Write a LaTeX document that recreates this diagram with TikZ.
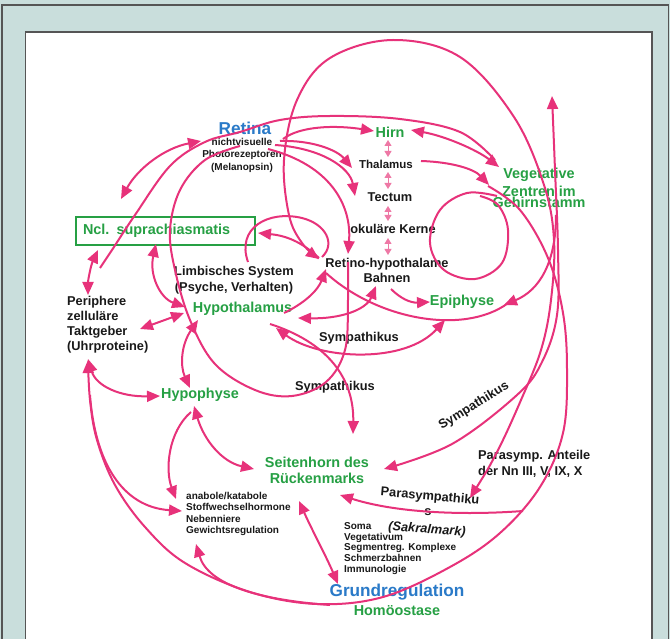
\documentclass[tikz,border=0pt]{standalone}
\usepackage{fontspec}
\setmainfont{Liberation Sans}
\usetikzlibrary{arrows.meta}
\definecolor{mypink}{RGB}{231,50,122}
\definecolor{mypinklt}{RGB}{238,120,165}
\definecolor{mygreen}{RGB}{38,160,68}
\definecolor{myblue}{RGB}{42,122,200}
\definecolor{mytext}{RGB}{25,25,25}
\definecolor{mybg}{RGB}{201,222,220}
\definecolor{myframe}{RGB}{85,85,85}
\begin{document}
\begin{tikzpicture}[x=1pt,y=-1pt,
  pinkline/.style={draw=mypink,line width=2pt},
  arrA/.style={pinkline,-{Triangle[length=13pt,width=11pt]}},
  arrAB/.style={pinkline,{Triangle[length=13pt,width=11pt]}-{Triangle[length=13pt,width=11pt]}},
  smallarr/.style={draw=mypinklt,line width=1pt,{Triangle[length=6pt,width=7pt]}-{Triangle[length=6pt,width=7pt]}},
  blk/.style={inner sep=0pt,text=mytext,font=\bfseries\fontsize{12.8}{15}\selectfont},
  grn/.style={inner sep=0pt,text=mygreen,font=\bfseries\fontsize{14.4}{16}\selectfont},
  bluebig/.style={inner sep=0pt,text=myblue,font=\bfseries\fontsize{17.2}{19}\selectfont},
  smalltxt/.style={inner sep=0pt,text=mytext,font=\bfseries\fontsize{10}{11.3}\selectfont}]
\useasboundingbox (0,0) rectangle (670,639);
\clip (0,0) rectangle (670,639);
\fill[mybg] (0,0) rectangle (670,639);
\draw[myframe,line width=1.3pt] (2,5) rectangle (668.5,660);
\draw[myframe,fill=white,line width=1.5pt] (25.5,32) rectangle (652,660);

% nodes
\node[bluebig] (retina) at (245,128) {Retina};
\node[smalltxt,align=center,font=\bfseries\fontsize{10}{12.5}\selectfont] (melan) at (242,155) {nichtvisuelle\\Photorezeptoren\\(Melanopsin)};
\node[grn] (hirn) at (390,132) {Hirn};
\node[blk,font=\bfseries\fontsize{11.5}{14}\selectfont] (thal) at (386,164) {Thalamus};
\node[blk] (tect) at (390,197) {Tectum};
\node[blk] (okul) at (393,229) {okuläre Kerne};
\node[blk,align=center] (rhb) at (387,270.5) {Retino-hypothalame\\Bahnen};
\node[grn] (veg1) at (539,175) {Vegetative};
\node[grn] (veg2) at (539,191) {Zentren im};
\node[grn] (veg3) at (539,202) {Gehirnstamm};
\node[grn] (epi) at (462,302) {Epiphyse};
\node[grn,draw=mygreen,line width=1.6pt,align=left,text width=165pt,inner xsep=7pt,minimum height=28pt] (ncl) at (165.5,231) {Ncl. suprachiasmatis};
\node[blk,align=center,font=\bfseries\fontsize{12.8}{16}\selectfont] (limb) at (234,280) {Limbisches System\\(Psyche, Verhalten)};
\node[grn] (hypoth) at (242.5,309) {Hypothalamus};
\node[blk,align=left,anchor=west] (peri) at (67,324.5) {Periphere\\zelluläre\\Taktgeber\\(Uhrproteine)};
\node[blk] (symp1) at (359,338) {Sympathikus};
\node[blk] (symp2) at (335,387) {Sympathikus};
\node[blk,rotate=32] (symp3) at (474,406) {Sympathikus};
\node[grn] (hypoph) at (200,395) {Hypophyse};
\node[grn,align=center] (seit) at (317,470) {Seitenhorn des\\Rückenmarks};
\node[blk,align=left,anchor=west,font=\bfseries\fontsize{12.8}{16}\selectfont] (parA) at (478,464) {Parasymp. Anteile\\der Nn III, V, IX, X};
\node[smalltxt,align=left,anchor=west] (anab) at (186,514) {anabole/katabole\\Stoffwechselhormone\\Nebenniere\\Gewichtsregulation};
\node[blk,rotate=-5] (paras) at (430,497) {Parasympathiku};
\node[blk] (paras2) at (428,512) {s};
\node[blk,rotate=-4,font=\bfseries\itshape\fontsize{12.8}{15}\selectfont] (sakr) at (427,530) {(Sakralmark)};
\node[smalltxt,align=left,anchor=west,font=\bfseries\fontsize{10}{10.8}\selectfont] (soma) at (344,548.5) {Soma\\Vegetativum\\Segmentreg. Komplexe\\Schmerzbahnen\\Immunologie};
\node[bluebig] (grund) at (397,592) {Grundregulation};
\node[grn] (homo) at (397,611) {Homöostase};

% connectors
\draw[arrAB] (201,141) .. controls (165,148) and (138,168) .. (121,199);
\draw[arrA] (283,139) .. controls (300,126) and (335,125) .. (374,131);
\draw[arrA] (280,141) .. controls (312,140) and (337,150) .. (352,168);
\draw[arrA] (275,145) .. controls (322,148) and (350,168) .. (355,196);
\draw[arrA] (268,149) .. controls (330,165) and (352,205) .. (348,254);
\foreach \a/\b in {140/157,172/189,206/221,238/255} \draw[smallarr] (388,\a) -- (388,\b);
\draw[arrAB] (411,130) .. controls (445,136) and (477,150) .. (499,167);
\draw[arrA] (421,161) .. controls (452,162) and (474,169) .. (489,185);
\draw[pinkline] plot[smooth,tension=0.6] coordinates {(495,160) (460,132) (400,119) (330,116) (280,120) (240,132) (205,142) (170,166) (135,215) (112,250) (100,268)};
\draw[arrA] (319,258) .. controls (305,245) and (290,236) .. (258,233);
\draw[arrAB] plot[smooth,tension=0.6] coordinates {(470,498) (497,452) (521,400) (541,350) (551,300) (554,240) (544,185) (514,117) (460,57) (393,40) (330,58) (297,100) (284,160) (289,215) (302,243) (319,259)};
\draw[arrAB] plot[smooth,tension=0.6] coordinates {(552,96) (555,170) (558,250) (557,315) (542,362) (517,395) (452,444) (384,469)};
\draw[arrA] (556,215) .. controls (556,262) and (540,290) .. (504,305);
\draw[pinkline] plot[smooth,tension=0.6] coordinates {(497,196) (467,193) (440,210) (430,243) (444,270) (475,279) (502,263) (508,230) (498,205) (480,196)};
\draw[arrA] plot[smooth,tension=0.6] coordinates {(488,186) (520,210) (548,258) (563,313) (567,370) (563,433) (540,487) (500,533) (450,567) (383,597) (317,604) (250,592) (185,563) (145,527) (115,485) (97,440) (90,400) (88,360)};
\draw[arrAB] (88,359) .. controls (96,386) and (120,397) .. (160,396);
\draw[arrA] (90,395) .. controls (95,462) and (122,507) .. (182,511);
\draw[arrA] (330,605) .. controls (260,600) and (208,585) .. (196,544);
\draw[arrA] (523,511) .. controls (470,515) and (400,514) .. (340,495);
\draw[arrAB] (299,501) .. controls (312,530) and (326,556) .. (338,584);
\draw[arrAB] (194,406) .. controls (204,440) and (222,462) .. (254,469);
\draw[arrA] (191,412) .. controls (168,432) and (165,470) .. (176,499);
\draw[arrAB] (198,320) .. controls (181,345) and (180,366) .. (190,388);
\draw[arrAB] (140,329) -- (184,313);
\draw[arrAB] (156,244) .. controls (149,275) and (160,298) .. (185,307);
\draw[arrAB] (98,250) .. controls (91,265) and (88,280) .. (88,295);
\draw[arrAB] (276,328) .. controls (320,360) and (405,364) .. (445,320);
\draw[arrA] (391,289) .. controls (400,298) and (410,303) .. (430,302);
\draw[arrAB] (298,318) .. controls (340,319) and (366,310) .. (376,286);
\draw[arrA] (284,313) .. controls (305,303) and (318,290) .. (326,269);
\draw[pinkline] (326,273) .. controls (380,322) and (470,336) .. (512,300);
\draw[arrA] (270,324) .. controls (335,345) and (354,385) .. (353,434);
\draw[pinkline] plot[smooth,tension=0.6] coordinates {(240,146) (205,160) (180,190) (170,230) (175,270) (190,320) (215,364) (255,390) (292,396) (326,382) (345,350) (348,300) (348,262)};
\draw[pinkline] (248,262) .. controls (236,228) and (268,210) .. (302,218) .. controls (326,224) and (336,244) .. (322,257);
\end{tikzpicture}
\end{document}
